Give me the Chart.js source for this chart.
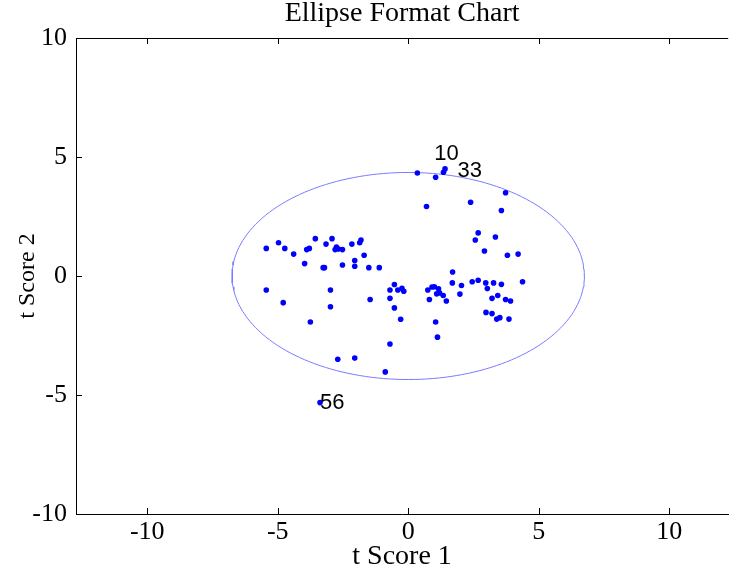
<!DOCTYPE html>
<html>
<head>
<meta charset="utf-8">
<title>Ellipse Format Chart</title>
<script src="https://cdn.jsdelivr.net/npm/chart.js@4/dist/chart.umd.min.js"></script>
<style>
  html, body { margin: 0; padding: 0; overflow: hidden; background: #fff; }
  canvas { display: block; }
</style>
</head>
<body>
<canvas id="chart" width="731" height="573" style="width:731px;height:573px"></canvas>
<script>
// Axis range and tick values (the axes run on past the right-hand edge)
const xRange = [-12.73, 12.26];
const yRange = [-10, 10];
const xTickValues = [-10, -5, 0, 5, 10];
const yTickValues = [-10, -5, 0, 5, 10];

// Score pairs (t1, t2) for each observation
const scoreX = [
  -5.44, -4.97, -4.73, -4.39, -3.97, -3.89, -3.79, -3.56, -3.26, -3.21,
  -3.15, -2.92, -2.80, -2.75, -2.67, -2.52, -2.52, -2.16, -2.05, -2.05,
  -1.86, -1.81, -1.69, -1.51, -1.11, -5.44, -4.79, -3.75, -2.98, -2.98,
  -1.46, -0.70, -0.53, -0.40, -0.24, -0.17, -0.70, -0.53, -0.29, -0.70,
  -2.70, -2.05, -0.88, -3.38,
  0.35, 1.05, 1.35, 1.41, 0.70, 2.39, 3.73, 3.57, 2.68, 2.57,
  3.34, 2.92, 3.80, 4.21, 1.70, 4.38, 0.75, 0.91, 1.00, 1.16,
  1.09, 1.20, 1.34, 0.81, 1.46, 1.05, 1.12, 1.69, 2.04, 1.98,
  2.45, 2.68, 2.97, 3.03, 3.27, 3.57, 3.43, 3.21, 3.73, 3.92,
  2.98, 3.21, 3.39, 3.51, 3.86
];
const scoreY = [
  1.16, 1.40, 1.16, 0.92, 0.52, 1.11, 1.16, 1.57, 0.35, 0.35,
  1.34, 1.57, 1.11, 1.22, 1.13, 1.11, 0.46, 1.34, 0.65, 0.41,
  1.40, 1.51, 0.87, 0.35, 0.35, -0.59, -1.12, -1.93, -0.59, -1.29,
  -0.99, -0.59, -0.36, -0.59, -0.52, -0.64, -0.94, -1.34, -1.82, -2.86,
  -3.50, -3.45, -4.03, -5.32,
  4.33, 4.15, 4.36, 4.50, 2.92, 3.10, 3.50, 2.75, 1.81, 1.51,
  1.64, 1.05, 0.87, 0.92, 0.17, -0.24, -0.59, -0.46, -0.45, -0.54,
  -0.75, -0.71, -0.82, -0.99, -1.05, -1.93, -2.57, -0.29, -0.40, -0.76,
  -0.24, -0.18, -0.29, -0.53, -0.29, -0.35, -0.82, -0.94, -0.99, -1.05,
  -1.53, -1.58, -1.81, -1.75, -1.81
];

// Observation tags written next to outlying points
const tagText = ['10', '33', '56'];
const tagX = [1.00, 1.89, -3.38];
const tagY = [5.11, 4.40, -5.32];

// Confidence ellipse semi-axes (t1, t2), centred on the origin
const ellipseRadii = [6.75, 4.35];
const ellipseSegments = 180;

const scorePoints = scoreX.map((x, i) => ({ x: x, y: scoreY[i] }));
const ellipsePoints = [];
for (let k = 0; k <= ellipseSegments; k++) {
  const a = (2 * Math.PI * k) / ellipseSegments;
  ellipsePoints.push({ x: ellipseRadii[0] * Math.cos(a), y: ellipseRadii[1] * Math.sin(a) });
}

const serif = '"Liberation Serif", "Times New Roman", serif';
const sans = '"Liberation Sans", Arial, sans-serif';

// Box top edge plus inward tick marks on top, bottom and left
const framePlugin = {
  id: 'frame',
  afterDraw(chart) {
    const { ctx, chartArea: a, scales: { x, y } } = chart;
    const len = 6;
    ctx.save();
    ctx.strokeStyle = '#000';
    ctx.lineWidth = 1;
    ctx.beginPath();
    ctx.moveTo(a.left, a.top + 0.5);
    ctx.lineTo(a.right, a.top + 0.5);
    x.ticks.forEach(t => {
      const px = Math.round(x.getPixelForValue(t.value)) + 0.5;
      ctx.moveTo(px, a.bottom);
      ctx.lineTo(px, a.bottom - len);
      ctx.moveTo(px, a.top);
      ctx.lineTo(px, a.top + len);
    });
    y.ticks.forEach(t => {
      const py = Math.round(y.getPixelForValue(t.value)) + 0.5;
      ctx.moveTo(a.left, py);
      ctx.lineTo(a.left + len, py);
    });
    ctx.stroke();
    ctx.restore();
  }
};

// Observation numbers beside selected points
const tagPlugin = {
  id: 'tags',
  afterDatasetsDraw(chart) {
    const { ctx, scales: { x, y } } = chart;
    ctx.save();
    ctx.fillStyle = '#000';
    ctx.font = '22px ' + sans;
    ctx.textAlign = 'left';
    ctx.textBaseline = 'middle';
    tagText.forEach((txt, i) => {
      ctx.fillText(txt, x.getPixelForValue(tagX[i]), y.getPixelForValue(tagY[i]));
    });
    ctx.restore();
  }
};

new Chart(document.getElementById('chart'), {
  type: 'scatter',
  data: {
    datasets: [
      {
        label: 'Scores',
        data: scorePoints,
        backgroundColor: '#0000ff',
        borderWidth: 0,
        pointRadius: 2.8,
        pointHoverRadius: 2.8,
        order: 0
      },
      {
        type: 'line',
        label: 'Ellipse',
        data: ellipsePoints,
        borderColor: '#7b7bff',
        borderWidth: 1,
        pointRadius: 0,
        fill: false,
        tension: 0,
        order: 1
      }
    ]
  },
  options: {
    responsive: false,
    devicePixelRatio: 1,
    animation: false,
    events: [],
    layout: { padding: 0 },
    plugins: {
      legend: { display: false },
      tooltip: { enabled: false },
      title: {
        display: true,
        fullSize: false,
        text: 'Ellipse Format Chart',
        color: '#000',
        font: { family: serif, size: 28, weight: 'normal', lineHeight: 1 },
        padding: { top: 0, bottom: 10 }
      }
    },
    scales: {
      x: {
        type: 'linear',
        min: xRange[0],
        max: xRange[1],
        afterBuildTicks: s => { s.ticks = xTickValues.map(v => ({ value: v })); },
        afterFit: s => { s.height = 59; },
        grid: { display: true, drawOnChartArea: false, drawTicks: false },
        border: { display: true, color: '#000', width: 1 },
        ticks: {
          color: '#000',
          padding: 3,
          maxRotation: 0,
          font: { family: serif, size: 26, lineHeight: 1.2 },
          callback: v => String(v)
        },
        title: {
          display: true,
          text: 't Score 1',
          color: '#000',
          font: { family: serif, size: 28, lineHeight: 1.2 },
          padding: { top: 0, bottom: 0 }
        }
      },
      y: {
        type: 'linear',
        min: yRange[0],
        max: yRange[1],
        afterBuildTicks: s => { s.ticks = yTickValues.map(v => ({ value: v })); },
        afterFit: s => { s.width = 76; },
        grid: { display: true, drawOnChartArea: false, drawTicks: false },
        border: { display: true, color: '#000', width: 1 },
        ticks: {
          color: '#000',
          padding: 9,
          font: { family: serif, size: 26, lineHeight: 1.2 },
          callback: v => String(v)
        },
        title: {
          display: true,
          text: 't Score 2',
          color: '#000',
          font: { family: serif, size: 24, lineHeight: 1.2 },
          padding: { top: 13, bottom: 0 }
        }
      }
    }
  },
  plugins: [framePlugin, tagPlugin]
});
</script>
</body>
</html>
